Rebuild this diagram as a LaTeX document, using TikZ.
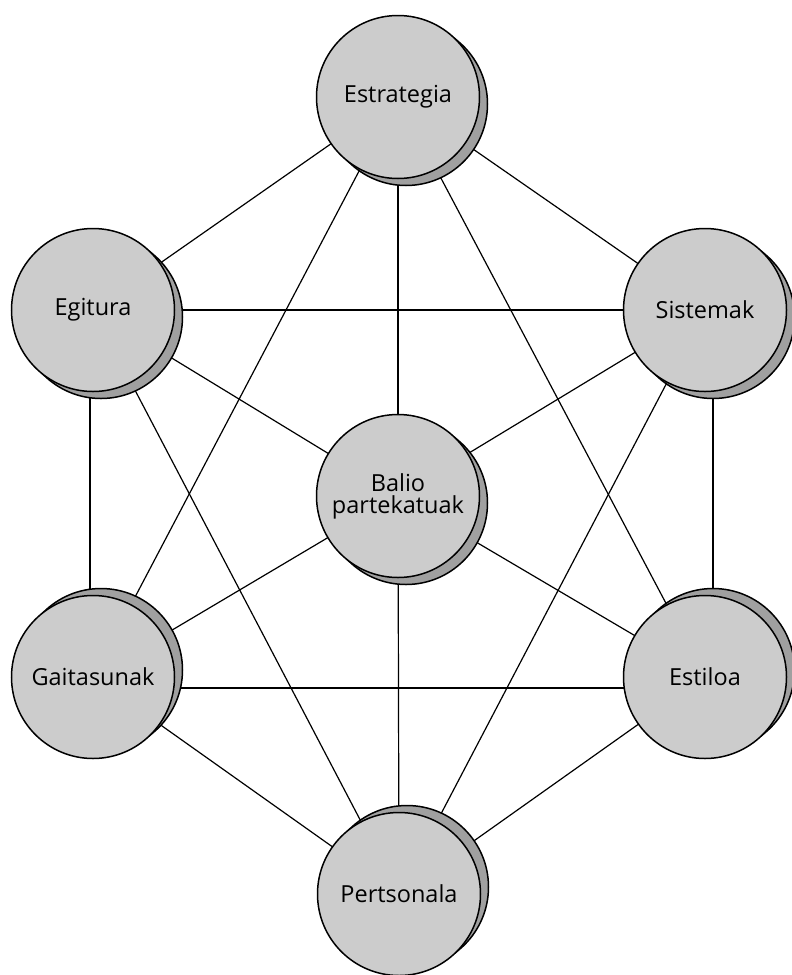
\documentclass[tikz,border=0pt]{standalone}
\usepackage{fontspec}
\setmainfont{Open Sans}
\usetikzlibrary{shadows,backgrounds}

\definecolor{discgray}{RGB}{204,204,204}
\definecolor{shadegray}{RGB}{160,160,160}

\tikzset{
  disc/.style={circle, minimum size=163pt, inner sep=0pt, fill=discgray,
    draw=black, line width=1.5pt, font=\fontsize{23.5}{25}\selectfont,
    align=center},
  shadelow/.style={general shadow={shadow xshift=8pt, shadow yshift=-7pt,
    fill=shadegray, draw=black, line width=1.5pt}},
  shadehigh/.style={general shadow={shadow xshift=8pt, shadow yshift=7pt,
    fill=shadegray, draw=black, line width=1.5pt}},
  link/.style={draw=black, line width=1.2pt}
}

\begin{document}
\begin{tikzpicture}[x=1pt, y=-1pt]
  \useasboundingbox (0,0) rectangle (792,975);

  % the seven elements
  \node[disc, shadelow]  (est) at (398,97)  {Estrategia};
  \node[disc, shadelow]  (egi) at (93,310)  {Egitura};
  \node[disc, shadelow]  (sis) at (705,310) {Sistemak};
  \node[disc, shadelow]  (bal) at (398,496) {Balio\\[-3pt]partekatuak};
  \node[disc, shadehigh] (gai) at (93,677)  {Gaitasunak};
  \node[disc, shadehigh] (sti) at (705,677) {Estiloa};
  \node[disc, shadehigh] (per) at (399,894) {Pertsonala};

  % every element linked to every other
  \begin{pgfonlayer}{background}
    \draw[link] (est.center) -- (egi.center);
    \draw[link] (est.center) -- (sis.center);
    \draw[link] (est.center) -- (bal.center);
    \draw[link] (est.center) -- (gai.center);
    \draw[link] (est.center) -- (sti.center);
    \draw[link] (egi.center) -- (sis.center);
    \draw[link] (egi.center) -- (bal.center);
    \draw[link] ([xshift=-3pt]egi.center) -- ([xshift=-3pt]gai.center);
    \draw[link] (egi.center) -- (per.center);
    \draw[link] (sis.center) -- (bal.center);
    \draw[link] ([xshift=8pt]sis.center) -- ([xshift=8pt]sti.center);
    \draw[link] (sis.center) -- (per.center);
    \draw[link] (bal.center) -- (gai.center);
    \draw[link] (bal.center) -- (sti.center);
    \draw[link] (bal.center) -- (per.center);
    \draw[link] ([yshift=-11pt]gai.center) -- ([yshift=-11pt]sti.center);
    \draw[link] (gai.center) -- (per.center);
    \draw[link] (sti.center) -- (per.center);
  \end{pgfonlayer}
\end{tikzpicture}
\end{document}
